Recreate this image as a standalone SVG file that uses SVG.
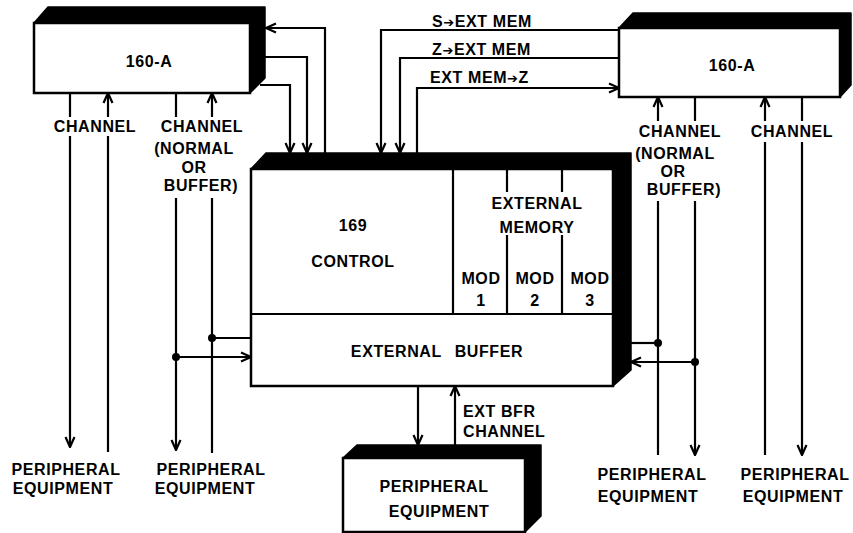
<svg xmlns="http://www.w3.org/2000/svg" width="853" height="533" viewBox="0 0 853 533">
<style>
.face{fill:#fff;stroke:#000;stroke-width:2.5}
.shade{fill:#000;stroke:#000;stroke-width:1.5;stroke-linejoin:round}
.div{stroke:#000;stroke-width:2.2;fill:none}
.c{fill:none;stroke:#000;stroke-width:2.2}
.a{marker-end:url(#ah)}
.t{font-family:"Liberation Sans",Arial,sans-serif;font-weight:bold;font-size:16px;letter-spacing:0.6px;text-anchor:middle;fill:#000}
.ts{text-anchor:start}
.ar{font-family:"DejaVu Sans",sans-serif;font-size:13px}
</style>
<defs>
<marker id="ah" viewBox="0 0 12 12" refX="11" refY="6" markerWidth="12" markerHeight="12" markerUnits="userSpaceOnUse" orient="auto">
<path d="M1,1.5 L11,6 L1,10.5" fill="none" stroke="#000" stroke-width="2.2"/>
</marker>
</defs>
<rect width="853" height="533" fill="#fff"/>

<g id="box-160a-left">
<polygon class="shade" points="34,23 48,7 265,7 265,78 250,93 250,23"/>
<rect class="face" x="34" y="23" width="216" height="70"/>
<text class="t" x="149" y="67">160-A</text>
</g>

<g id="box-160a-right">
<polygon class="shade" points="619,28 633,13 851,13 851,85 840,97 840,28"/>
<rect class="face" x="619" y="28" width="221" height="69"/>
<text class="t" x="732" y="71">160-A</text>
</g>

<g id="box-169">
<polygon class="shade" points="251,169 266,153 631,153 631,370 613,386 613,169"/>
<rect class="face" x="251" y="169" width="362" height="217"/>
<path class="div" d="M251,314 H613 M453,169 V314 M507,169 V192 M507,235 V314 M562,169 V192 M562,235 V314"/>
<text class="t" x="353" y="231">169</text>
<text class="t" x="353" y="267">CONTROL</text>
<text class="t" x="537" y="209">EXTERNAL</text>
<text class="t" x="537" y="233">MEMORY</text>
<text class="t" x="481" y="284">MOD</text>
<text class="t" x="481" y="306">1</text>
<text class="t" x="535" y="284">MOD</text>
<text class="t" x="535" y="306">2</text>
<text class="t" x="590" y="284">MOD</text>
<text class="t" x="590" y="306">3</text>
<text class="t" x="437" y="357" style="word-spacing:8px">EXTERNAL BUFFER</text>
</g>

<g id="box-peripheral-bottom">
<polygon class="shade" points="343,458 357,445 541,445 541,516 525,532 525,458"/>
<rect class="face" x="343" y="458" width="182" height="74"/>
<text class="t" x="434" y="492">PERIPHERAL</text>
<text class="t" x="439" y="517">EQUIPMENT</text>
</g>

<g id="peripheral-1">
<text class="t" x="66" y="475">PERIPHERAL</text>
<text class="t" x="63" y="494">EQUIPMENT</text>
</g>
<g id="peripheral-2">
<text class="t" x="211" y="475">PERIPHERAL</text>
<text class="t" x="205" y="494">EQUIPMENT</text>
</g>
<g id="peripheral-3">
<text class="t" x="652" y="480">PERIPHERAL</text>
<text class="t" x="648" y="502">EQUIPMENT</text>
</g>
<g id="peripheral-4">
<text class="t" x="795" y="480">PERIPHERAL</text>
<text class="t" x="793" y="502">EQUIPMENT</text>
</g>

<g id="connectors">
<path class="c a" d="M325,153 V28 H266"/>
<path class="c a" d="M263,57 H307 V153"/>
<path class="c a" d="M260,85 H290 V153"/>
<path class="c a" d="M619,30 H381 V153"/>
<path class="c a" d="M619,58 H400 V153"/>
<path class="c a" d="M417,153 V88 H619"/>

<path class="c" d="M70,93 V117"/>
<path class="c a" d="M70,136 V447"/>
<path class="c" d="M108,452 V136"/>
<path class="c a" d="M108,117 V93"/>
<path class="c" d="M176,93 V117"/>
<path class="c a" d="M176,198 V450"/>
<path class="c" d="M212,453 V198"/>
<path class="c a" d="M212,117 V93"/>
<path class="c" d="M212,338 H251"/>
<path class="c a" d="M176,357 H251"/>

<path class="c" d="M658,455 V201"/>
<path class="c a" d="M658,121 V97"/>
<path class="c" d="M695,97 V121"/>
<path class="c a" d="M695,201 V455"/>
<path class="c" d="M765,455 V142"/>
<path class="c a" d="M765,121 V97"/>
<path class="c" d="M802,97 V121"/>
<path class="c a" d="M802,142 V455"/>
<path class="c" d="M658,343 H631"/>
<path class="c a" d="M695,362 H631"/>

<path class="c a" d="M418,386 V445"/>
<path class="c a" d="M455,445 V386"/>

<circle cx="212" cy="338" r="4"/>
<circle cx="176" cy="357" r="4"/>
<circle cx="658" cy="343" r="4"/>
<circle cx="695" cy="362" r="4"/>

<text class="t" x="95" y="132">CHANNEL</text>
<text class="t" x="202" y="132">CHANNEL</text>
<text class="t" x="194" y="154">(NORMAL</text>
<text class="t" x="194" y="173">OR</text>
<text class="t" x="201" y="191">BUFFER)</text>

<text class="t" x="680" y="137">CHANNEL</text>
<text class="t" x="675" y="159">(NORMAL</text>
<text class="t" x="673" y="177">OR</text>
<text class="t" x="684" y="195">BUFFER)</text>
<text class="t" x="792" y="137">CHANNEL</text>

<text class="t ts" x="432" y="27">S<tspan class="ar">➔</tspan>EXT MEM</text>
<text class="t ts" x="432" y="55">Z<tspan class="ar">➔</tspan>EXT MEM</text>
<text class="t ts" x="430" y="83">EXT MEM<tspan class="ar">➔</tspan>Z</text>
<text class="t ts" x="463" y="417">EXT BFR</text>
<text class="t ts" x="463" y="437">CHANNEL</text>
</g>
</svg>
